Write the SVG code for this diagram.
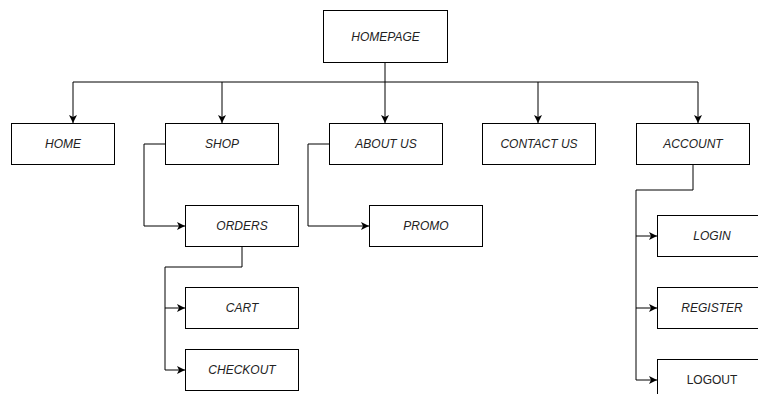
<svg xmlns="http://www.w3.org/2000/svg" width="758" height="394" viewBox="0 0 758 394">
<defs>
<marker id="arr" viewBox="0 0 10 10" refX="10" refY="5" markerWidth="8" markerHeight="8" markerUnits="userSpaceOnUse" orient="auto">
<path d="M0,0 L10,5 L0,10 L2.5,5 Z" fill="#000"/>
</marker>
</defs>
<style>
.box{fill:#fff;stroke:#000;stroke-width:1}
.t{font-family:"Liberation Sans",Arial,sans-serif;font-size:12px;font-style:italic;fill:#222;text-anchor:middle;dominant-baseline:central}
.n{font-style:normal}
.c{fill:none;stroke:#000;stroke-width:1}
</style>
<rect width="758" height="394" fill="#fff"/>
<g id="connectors">
<path class="c" d="M385,62 V82 H73 V123" marker-end="url(#arr)"/>
<path class="c" d="M222,82 V123" marker-end="url(#arr)"/>
<path class="c" d="M385,82 V123" marker-end="url(#arr)"/>
<path class="c" d="M385,82 H538 V123" marker-end="url(#arr)"/>
<path class="c" d="M538,82 H698 V123" marker-end="url(#arr)"/>
<path class="c" d="M165,144 H144 V226 H185" marker-end="url(#arr)"/>
<path class="c" d="M329,144 H308 V226 H369" marker-end="url(#arr)"/>
<path class="c" d="M242,246 V267 H165 V308 H185" marker-end="url(#arr)"/>
<path class="c" d="M165,308 V370 H185" marker-end="url(#arr)"/>
<path class="c" d="M693,164 V190 H636 V236 H657" marker-end="url(#arr)"/>
<path class="c" d="M636,236 V308 H657" marker-end="url(#arr)"/>
<path class="c" d="M636,308 V380 H657" marker-end="url(#arr)"/>
</g>
<g id="homepage"><rect class="box" x="323.5" y="10.5" width="124" height="52"/><text class="t" x="385.5" y="36.5">HOMEPAGE</text></g>
<g id="home"><rect class="box" x="11.5" y="123.5" width="103" height="41"/><text class="t" x="63" y="144">HOME</text></g>
<g id="shop"><rect class="box" x="165.5" y="123.5" width="113" height="41"/><text class="t" x="222" y="144">SHOP</text></g>
<g id="about"><rect class="box" x="329.5" y="123.5" width="113" height="41"/><text class="t" x="386" y="144">ABOUT US</text></g>
<g id="contact"><rect class="box" x="482.5" y="123.5" width="113" height="41"/><text class="t" x="539" y="144">CONTACT US</text></g>
<g id="account"><rect class="box" x="636.5" y="123.5" width="113" height="41"/><text class="t" x="693" y="144">ACCOUNT</text></g>
<g id="orders"><rect class="box" x="185.5" y="205.5" width="113" height="41"/><text class="t" x="242" y="226">ORDERS</text></g>
<g id="promo"><rect class="box" x="369.5" y="205.5" width="113" height="41"/><text class="t" x="426" y="226">PROMO</text></g>
<g id="cart"><rect class="box" x="185.5" y="287.5" width="113" height="41"/><text class="t" x="242" y="308">CART</text></g>
<g id="checkout"><rect class="box" x="185.5" y="349.5" width="113" height="41"/><text class="t" x="242" y="370">CHECKOUT</text></g>
<g id="login"><rect class="box" x="657.5" y="215.5" width="113" height="41"/><text class="t" x="712" y="236">LOGIN</text></g>
<g id="register"><rect class="box" x="657.5" y="287.5" width="113" height="41"/><text class="t" x="712" y="308">REGISTER</text></g>
<g id="logout"><rect class="box" x="657.5" y="359.5" width="113" height="41"/><text class="t n" x="712" y="380">LOGOUT</text></g>
</svg>
